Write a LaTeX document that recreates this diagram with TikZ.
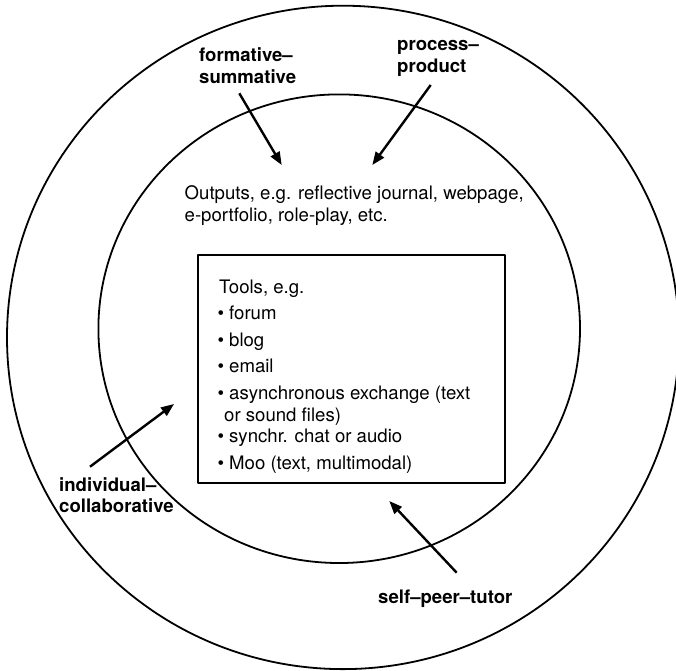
\documentclass[tikz,border=0pt]{standalone}
\usepackage{fontspec}
\setmainfont{TeX Gyre Heros}
\usetikzlibrary{arrows.meta}
\begin{document}
\begin{tikzpicture}[x=1pt,y=-1pt, line join=round,
  ring/.style={line width=1.8pt},
  arr/.style={line width=2.4pt,-{Triangle[length=13pt,width=10pt]}},
  txt/.style={anchor=base west,inner sep=0pt,font=\fontsize{18.6}{22}\selectfont},
  lbl/.style={anchor=base west,inner sep=0pt,font=\fontsize{18.6}{22}\selectfont\bfseries}]
\useasboundingbox (0,0) rectangle (676,670);
\draw[ring] (343,337.4) ellipse [x radius=336, y radius=331.7];
\draw[ring] (339.2,328.7) ellipse [x radius=240.8, y radius=234.3];
\node[draw, line width=2.5pt, minimum width=307pt, minimum height=228pt, inner sep=0pt] (box) at (351.5,369) {};
% outputs
\node[txt] (out1) at (184.5,199) {Outputs, e.g. reflective journal, webpage,};
\node[txt] (out2) at (184.5,221) {e-portfolio, role-play, etc.};
% tools
\node[txt] (tools) at (219,293.3) {Tools, e.g.};
\node[txt] (t1) at (217.3,319) {• forum};
\node[txt] (t2) at (217.3,346.5) {• blog};
\node[txt] (t3) at (217.3,372.7) {• email};
\node[txt] (t4) at (217.3,399.3) {• asynchronous exchange (text};
\node[txt] (t4b) at (224,421.7) {or sound files)};
\node[txt] (t5) at (217.3,442.7) {• synchr. chat or audio};
\node[txt] (t6) at (217.3,469.3) {• Moo (text, multimodal)};
% labels
\node[lbl] (fs1) at (199,61) {formative--};
\node[lbl] (fs2) at (199,83.3) {summative};
\node[lbl] (pp1) at (397,50) {process--};
\node[lbl] (pp2) at (397,72) {product};
\node[lbl] (ic1) at (59,491) {individual--};
\node[lbl] (ic2) at (59,512.7) {collaborative};
\node[lbl] (spt) at (378,603.3) {self--peer--tutor};
% arrow ends
\coordinate (fsS) at (239.3,93.3);
\coordinate (fsE) at (281.7,165);
\coordinate (ppS) at (430.7,85);
\coordinate (ppE) at (372.3,165);
\coordinate (icS) at (90,466.7);
\coordinate (icE) at (174,404);
\coordinate (spS) at (456.7,572.7);
\coordinate (spE) at (389.3,501);
\draw[arr] (fsS) -- (fsE);
\draw[arr] (ppS) -- (ppE);
\draw[arr] (icS) -- (icE);
\draw[arr] (spS) -- (spE);
\end{tikzpicture}
\end{document}
